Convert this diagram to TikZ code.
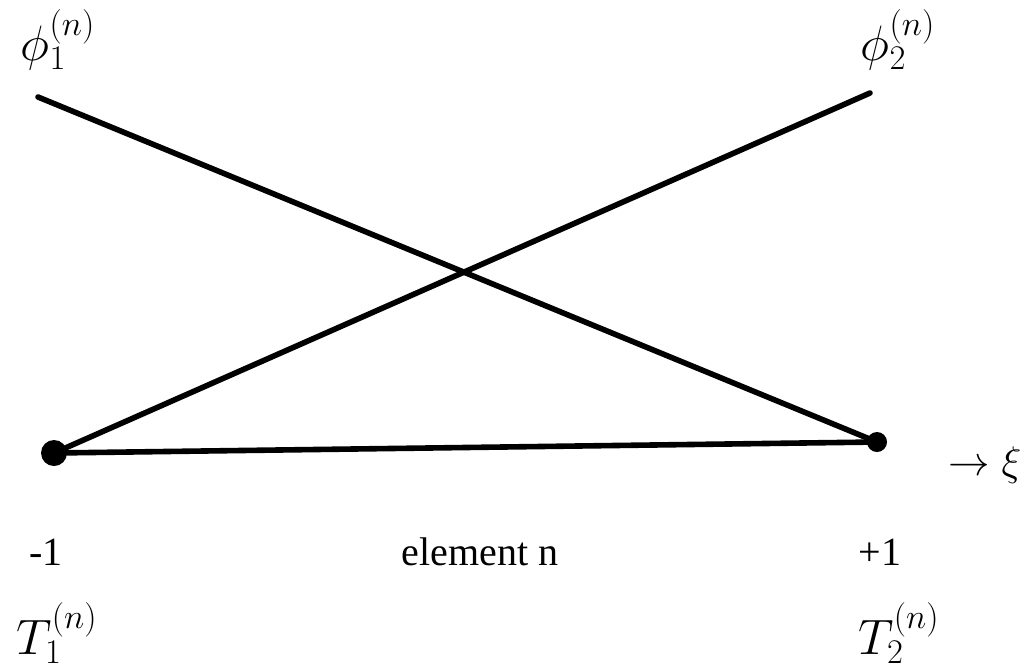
\documentclass[tikz,border=0pt]{standalone}
\usepackage{fontspec}
\setmainfont{Liberation Serif}
\usepackage{tikz}
\usetikzlibrary{positioning}
\tikzset{
  fnline/.style = {line width=2.8pt, line cap=round},
  nodedot/.style = {circle, fill=black, inner sep=0pt},
  lbl/.style = {font=\fontsize{20}{24}\selectfont, inner sep=0pt},
  mlbl/.style = {font=\fontsize{25}{28}\selectfont, inner sep=0pt},
}

\begin{document}
\begin{tikzpicture}[x=0.5pt, y=-0.5pt]
        \useasboundingbox (0,0) rectangle (1027,671);
        % nodes of the element
        \node[nodedot, minimum size=13pt] (a) at (54,453) {};
        \node[nodedot, minimum size=10pt] (b) at (877,442) {};
        \coordinate (pa) at (38,97);
        \coordinate (pb) at (870,93);
        % shape functions
        \draw[fnline] (pa) -- (b.center);
        \draw[fnline] (a.center) -- (pb);
        \draw[fnline] (a.center) -- (b.center);
        % labels
        \node[mlbl] (phia) at (58,40)  {$\phi_1^{(n)}$};
        \node[mlbl] (phib) at (898,40) {$\phi_2^{(n)}$};
        \node[lbl] (xi)   at (985,465) {$\rightarrow\xi$};
        \node[lbl] (ma)   at (46,552)  {-1};
        \node[lbl] (el)   at (480,552) {element n};
        \node[lbl] (pl)   at (880,552) {+1};
        \node[mlbl] (ta)  at (57,633)  {$T_1^{(n)}$};
        \node[mlbl] (tb)  at (899,633) {$T_2^{(n)}$};
    \end{tikzpicture}
\end{document}
